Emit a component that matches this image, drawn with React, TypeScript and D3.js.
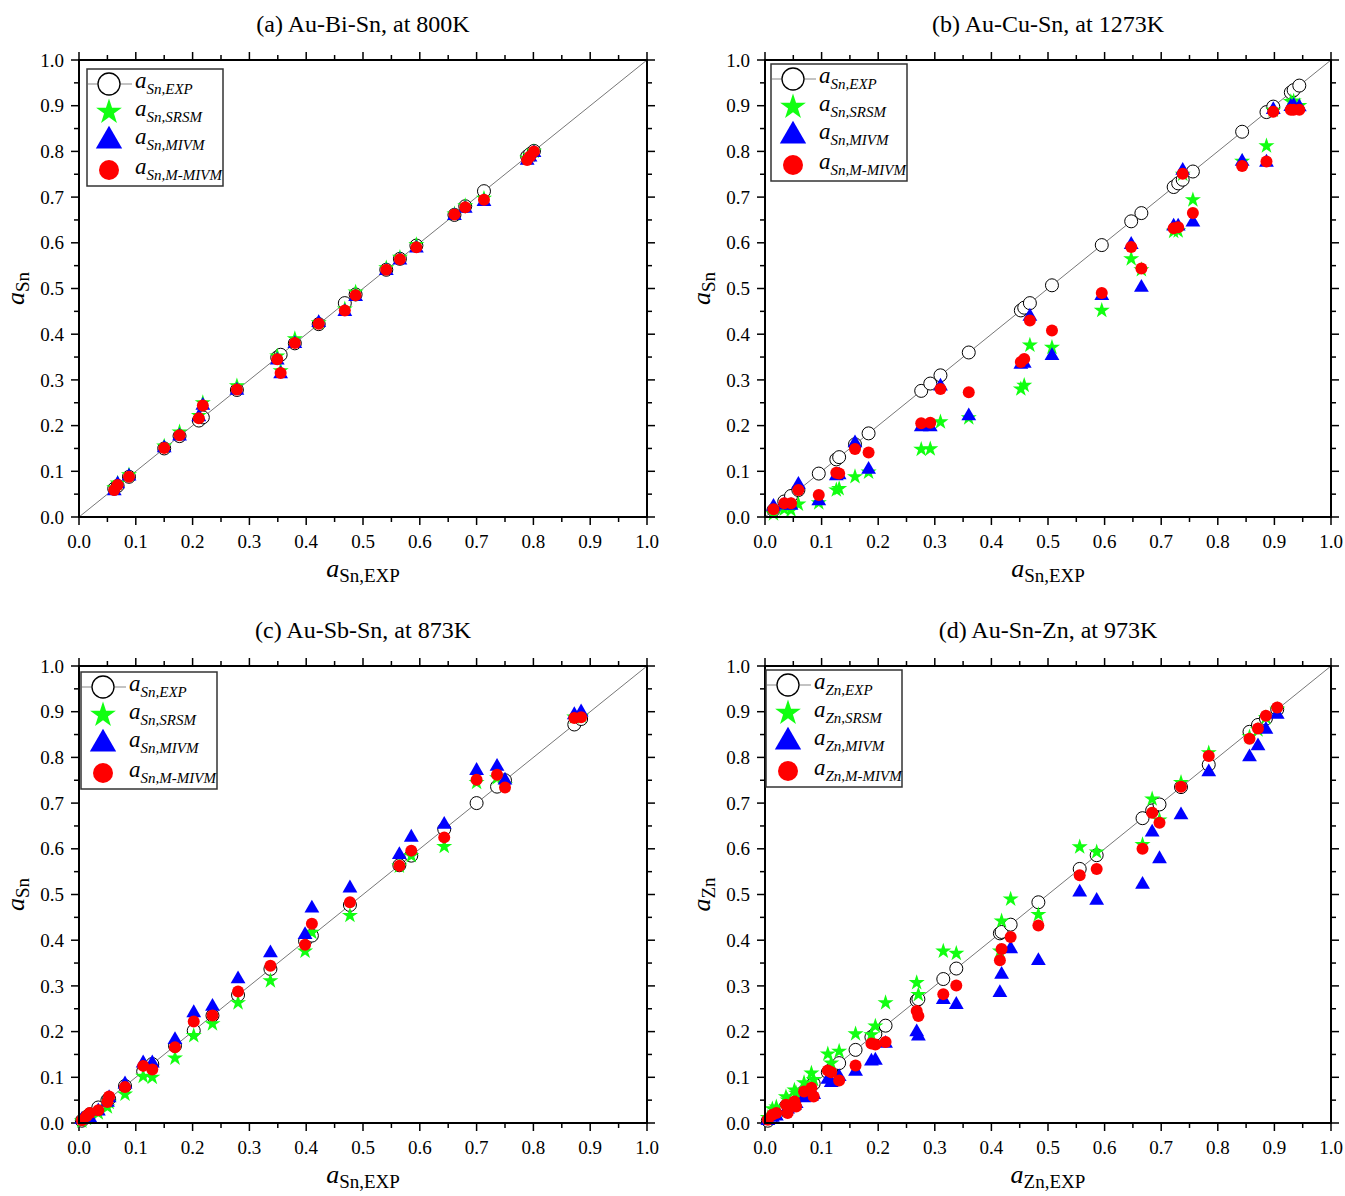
import React from "react";
import * as d3 from "d3";

const FONT = '"Liberation Serif", "Times New Roman", Times, serif';

// (a) Au-Bi-Sn, at 800K
const expA = [0.062, 0.068, 0.088, 0.150, 0.177, 0.211, 0.218, 0.278, 0.349, 0.355, 0.380, 0.422, 0.468, 0.487, 0.541, 0.565, 0.594, 0.661, 0.680, 0.713, 0.789, 0.794, 0.801];
const srsmA = [0.064, 0.074, 0.092, 0.155, 0.186, 0.222, 0.250, 0.287, 0.352, 0.320, 0.390, 0.425, 0.455, 0.492, 0.545, 0.568, 0.596, 0.663, 0.681, 0.697, 0.785, 0.791, 0.800];
const mivmA = [0.057, 0.072, 0.089, 0.151, 0.177, 0.219, 0.244, 0.277, 0.343, 0.313, 0.379, 0.425, 0.449, 0.482, 0.539, 0.562, 0.588, 0.659, 0.675, 0.690, 0.780, 0.787, 0.797];
const mmivmA = [0.059, 0.070, 0.088, 0.151, 0.179, 0.216, 0.244, 0.279, 0.345, 0.315, 0.381, 0.423, 0.452, 0.485, 0.541, 0.564, 0.590, 0.662, 0.678, 0.694, 0.781, 0.789, 0.800];

// (b) Au-Cu-Sn, at 1273K
const expB = [0.015, 0.034, 0.046, 0.059, 0.095, 0.126, 0.131, 0.159, 0.183, 0.276, 0.292, 0.310, 0.360, 0.452, 0.458, 0.468, 0.507, 0.595, 0.647, 0.665, 0.722, 0.730, 0.738, 0.756, 0.843, 0.886, 0.898, 0.929, 0.934, 0.944];
const srsmB = [0.007, 0.017, 0.015, 0.028, 0.031, 0.059, 0.062, 0.088, 0.098, 0.148, 0.149, 0.208, 0.217, 0.280, 0.288, 0.376, 0.371, 0.452, 0.565, 0.541, 0.625, 0.626, 0.750, 0.694, 0.778, 0.812, 0.890, 0.909, 0.910, 0.900];
const mivmB = [0.023, 0.026, 0.025, 0.071, 0.035, 0.090, 0.092, 0.162, 0.104, 0.197, 0.197, 0.286, 0.221, 0.334, 0.336, 0.439, 0.353, 0.484, 0.596, 0.502, 0.636, 0.636, 0.758, 0.645, 0.778, 0.776, 0.891, 0.898, 0.900, 0.897];
const mmivmB = [0.017, 0.030, 0.030, 0.059, 0.048, 0.097, 0.095, 0.149, 0.141, 0.205, 0.206, 0.280, 0.273, 0.339, 0.346, 0.430, 0.408, 0.490, 0.591, 0.544, 0.632, 0.634, 0.751, 0.665, 0.768, 0.778, 0.887, 0.891, 0.891, 0.891];

// (c) Au-Sb-Sn, at 873K
const expC = [0.005, 0.013, 0.019, 0.034, 0.050, 0.053, 0.081, 0.113, 0.129, 0.169, 0.202, 0.235, 0.280, 0.337, 0.398, 0.410, 0.477, 0.564, 0.585, 0.643, 0.700, 0.736, 0.750, 0.872, 0.884];
const srsmC = [0.004, 0.010, 0.012, 0.022, 0.035, 0.045, 0.063, 0.102, 0.100, 0.142, 0.191, 0.217, 0.263, 0.311, 0.376, 0.417, 0.454, 0.562, 0.585, 0.605, 0.745, 0.755, 0.740, 0.888, 0.890];
const mivmC = [0.007, 0.012, 0.011, 0.026, 0.045, 0.055, 0.085, 0.131, 0.131, 0.182, 0.241, 0.255, 0.315, 0.372, 0.412, 0.470, 0.514, 0.587, 0.625, 0.653, 0.771, 0.780, 0.750, 0.893, 0.899];
const mmivmC = [0.006, 0.015, 0.022, 0.028, 0.046, 0.058, 0.079, 0.125, 0.117, 0.166, 0.222, 0.235, 0.288, 0.344, 0.390, 0.436, 0.483, 0.563, 0.596, 0.625, 0.751, 0.762, 0.734, 0.886, 0.888];

// (d) Au-Sn-Zn, at 973K
const expD = [0.005, 0.013, 0.020, 0.037, 0.040, 0.052, 0.055, 0.069, 0.082, 0.086, 0.111, 0.117, 0.131, 0.160, 0.188, 0.195, 0.213, 0.268, 0.271, 0.315, 0.338, 0.415, 0.418, 0.434, 0.483, 0.556, 0.586, 0.667, 0.684, 0.697, 0.735, 0.784, 0.856, 0.871, 0.885, 0.905];
const srsmD = [0.012, 0.031, 0.035, 0.057, 0.050, 0.072, 0.065, 0.088, 0.109, 0.095, 0.151, 0.131, 0.157, 0.195, 0.193, 0.212, 0.263, 0.307, 0.281, 0.376, 0.371, 0.376, 0.442, 0.490, 0.456, 0.604, 0.593, 0.609, 0.709, 0.663, 0.745, 0.810, 0.845, 0.860, 0.887, 0.905];
const mivmD = [0.005, 0.012, 0.015, 0.026, 0.030, 0.038, 0.042, 0.055, 0.058, 0.062, 0.095, 0.088, 0.101, 0.113, 0.135, 0.137, 0.174, 0.199, 0.190, 0.270, 0.259, 0.285, 0.325, 0.381, 0.355, 0.505, 0.487, 0.522, 0.636, 0.578, 0.674, 0.768, 0.801, 0.825, 0.861, 0.894];
const mmivmD = [0.007, 0.018, 0.022, 0.040, 0.022, 0.047, 0.036, 0.069, 0.077, 0.058, 0.115, 0.111, 0.093, 0.126, 0.174, 0.172, 0.177, 0.245, 0.234, 0.282, 0.301, 0.356, 0.381, 0.407, 0.432, 0.542, 0.556, 0.600, 0.679, 0.657, 0.736, 0.803, 0.841, 0.863, 0.891, 0.909];

const tickLabels = ["0.0", "0.1", "0.2", "0.3", "0.4", "0.5", "0.6", "0.7", "0.8", "0.9", "1.0"];
const seriesNames = ["EXP", "SRSM", "MIVM", "M-MIVM"];

const GREEN = "#11ff11";
const BLUE = "#0000ff";
const RED = "#ff0000";

const starPath = d3.symbol(d3.symbolStar, 80)() as string;
const triPath = d3.symbol(d3.symbolTriangle, 95)() as string;
const starLeg = d3.symbol(d3.symbolStar, 205)() as string;
const triLeg = d3.symbol(d3.symbolTriangle, 300)() as string;

type PanelProps = {
  title: string;
  el: string;
  exp: number[];
  srsm: number[];
  mivm: number[];
  mmivm: number[];
  left: number;
  right: number;
  top: number;
  bottom: number;
  legX: number;
  legY: number;
};

function Panel(p: PanelProps) {
  const x = d3.scaleLinear().domain([0, 1]).range([p.left, p.right]);
  const y = d3.scaleLinear().domain([0, 1]).range([p.bottom, p.top]);
  const major = d3.range(0, 11).map((i) => i / 10);
  const minor = d3.range(0, 10).map((i) => i / 10 + 0.05);
  const cx = (p.left + p.right) / 2;
  const cy = (p.top + p.bottom) / 2;
  const legOff = [15, 43, 71, 101];

  return (
    <g>
      <text x={cx} y={p.top - 28} textAnchor="middle" fontSize={24} fontFamily={FONT}>
        {p.title}
      </text>

      {/* diagonal y = x */}
      <line x1={x(0)} y1={y(0)} x2={x(1)} y2={y(1)} stroke="#777" strokeWidth={1} />

      {/* ticks, outward on all four sides */}
      {major.map((v) => (
        <g key={"M" + v} stroke="#000" strokeWidth={1.5}>
          <line x1={x(v)} x2={x(v)} y1={p.bottom} y2={p.bottom + 8} />
          <line x1={x(v)} x2={x(v)} y1={p.top} y2={p.top - 8} />
          <line y1={y(v)} y2={y(v)} x1={p.left} x2={p.left - 8} />
          <line y1={y(v)} y2={y(v)} x1={p.right} x2={p.right + 8} />
        </g>
      ))}
      {minor.map((v) => (
        <g key={"m" + v} stroke="#000" strokeWidth={1.5}>
          <line x1={x(v)} x2={x(v)} y1={p.bottom} y2={p.bottom + 5} />
          <line x1={x(v)} x2={x(v)} y1={p.top} y2={p.top - 5} />
          <line y1={y(v)} y2={y(v)} x1={p.left} x2={p.left - 5} />
          <line y1={y(v)} y2={y(v)} x1={p.right} x2={p.right + 5} />
        </g>
      ))}
      {major.map((v, i) => (
        <g key={"l" + v} fontSize={19} fontFamily={FONT}>
          <text x={x(v)} y={p.bottom + 31} textAnchor="middle">
            {tickLabels[i]}
          </text>
          <text x={p.left - 15} y={y(v)} dy="0.35em" textAnchor="end">
            {tickLabels[i]}
          </text>
        </g>
      ))}

      {/* axis titles */}
      <text x={cx} y={p.bottom + 60} textAnchor="middle" fontFamily={FONT}>
        <tspan fontSize={26} fontStyle="italic">a</tspan>
        <tspan fontSize={19} dy={5}>{p.el},EXP</tspan>
      </text>
      <text
        transform={`translate(${p.left - 55},${cy}) rotate(-90)`}
        textAnchor="middle"
        fontFamily={FONT}
      >
        <tspan fontSize={26} fontStyle="italic">a</tspan>
        <tspan fontSize={19} dy={5}>{p.el}</tspan>
      </text>

      {/* series */}
      {p.exp.map((v, i) => (
        <circle key={"e" + i} cx={x(v)} cy={y(v)} r={6.5} fill="#fff" stroke="#000" strokeWidth={1} />
      ))}
      {p.srsm.map((v, i) => (
        <path key={"s" + i} d={starPath} transform={`translate(${x(p.exp[i])},${y(v)})`} fill={GREEN} />
      ))}
      {p.mivm.map((v, i) => (
        <path key={"t" + i} d={triPath} transform={`translate(${x(p.exp[i])},${y(v)})`} fill={BLUE} />
      ))}
      {p.mmivm.map((v, i) => (
        <circle key={"r" + i} cx={x(p.exp[i])} cy={y(v)} r={6} fill={RED} />
      ))}

      {/* frame */}
      <rect
        x={p.left}
        y={p.top}
        width={p.right - p.left}
        height={p.bottom - p.top}
        fill="none"
        stroke="#000"
        strokeWidth={2}
      />

      {/* legend */}
      <g transform={`translate(${p.legX},${p.legY})`}>
        <rect x={0} y={0} width={136} height={117} fill="#fff" stroke="#333" strokeWidth={1.5} />
        <line x1={1} x2={45} y1={legOff[0]} y2={legOff[0]} stroke="#888" strokeWidth={1.2} />
        <circle cx={22} cy={legOff[0]} r={11} fill="#fff" stroke="#000" strokeWidth={1.3} />
        <path d={starLeg} transform={`translate(22,${legOff[1]})`} fill={GREEN} />
        <path d={triLeg} transform={`translate(22,${legOff[2] + 1})`} fill={BLUE} />
        <circle cx={22} cy={legOff[3]} r={10} fill={RED} />
        {seriesNames.map((s, i) => (
          <text key={s} x={48} y={legOff[i] + 4} fontFamily={FONT} fontStyle="italic">
            <tspan fontSize={23}>a</tspan>
            <tspan fontSize={15} dy={6}>{p.el},{s}</tspan>
          </text>
        ))}
      </g>
    </g>
  );
}

export default function App() {
  return (
    <svg
      width={1345}
      height={1196}
      style={{ position: "absolute", left: 0, top: 0, background: "#fff" }}
    >
      <rect width={1345} height={1196} fill="#fff" />
      <Panel title="(a) Au-Bi-Sn, at 800K" el="Sn" exp={expA} srsm={srsmA} mivm={mivmA} mmivm={mmivmA}
        left={79} right={647} top={60} bottom={517} legX={87} legY={69} />
      <Panel title="(b) Au-Cu-Sn, at 1273K" el="Sn" exp={expB} srsm={srsmB} mivm={mivmB} mmivm={mmivmB}
        left={765} right={1331} top={60} bottom={517} legX={771} legY={64} />
      <Panel title="(c) Au-Sb-Sn, at 873K" el="Sn" exp={expC} srsm={srsmC} mivm={mivmC} mmivm={mmivmC}
        left={79} right={647} top={666} bottom={1123} legX={81} legY={672} />
      <Panel title="(d) Au-Sn-Zn, at 973K" el="Zn" exp={expD} srsm={srsmD} mivm={mivmD} mmivm={mmivmD}
        left={765} right={1331} top={666} bottom={1123} legX={766} legY={670} />
    </svg>
  );
}
